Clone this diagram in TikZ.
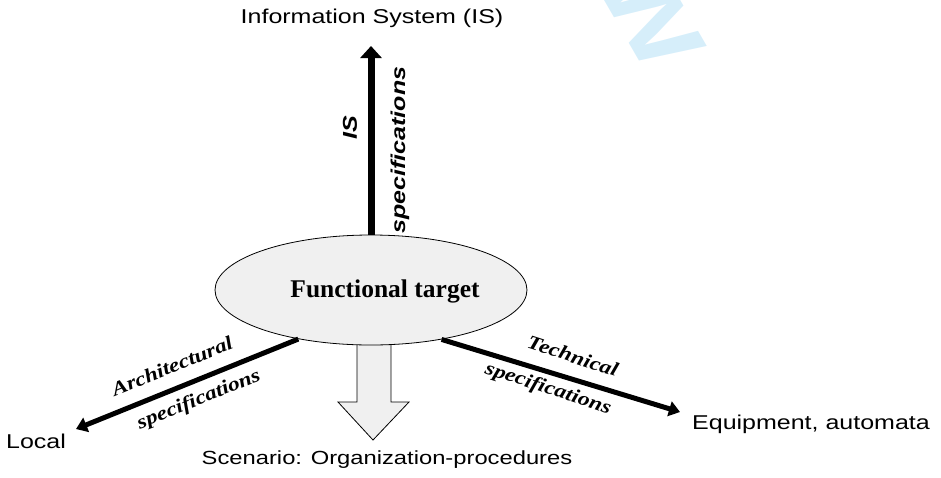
\documentclass[tikz,border=0pt]{standalone}
\usepackage{fontspec}
\setmainfont{Liberation Serif}
\newfontfamily\axisfont[FakeStretch=1.25]{Liberation Sans}
\newfontfamily\specfont[FakeStretch=1.2]{Liberation Serif}
\usetikzlibrary{shapes.geometric,arrows.meta}

\definecolor{targetgray}{RGB}{240,240,240}
\definecolor{markblue}{RGB}{214,238,250}

\tikzset{
  axislabel/.style={font=\axisfont\fontsize{20}{24}\selectfont},
  islabel/.style={font=\axisfont\bfseries\itshape\fontsize{20}{24}\selectfont,rotate=90},
  speclabel/.style={font=\specfont\bfseries\itshape\fontsize{19.5}{22}\selectfont},
  specarrow/.style={line width=5pt,-{Triangle[width=15pt,length=11pt]}},
}

\begin{document}
\begin{tikzpicture}[x=1pt,y=-1pt]
  \useasboundingbox (0,0) rectangle (941,477);

  \node (mark) at (650,14) [text=markblue,font=\axisfont\bfseries\fontsize{96}{96}\selectfont,rotate=-60] {W};

  % scenario arrow, under the ellipse
  \draw [thick,fill=targetgray] (357,320) -- (357,402) -- (338,402) -- (373,440)
        -- (409,402) -- (391,402) -- (391,320);

  \node (target) at (371,290) [ellipse,draw,thick,fill=targetgray,minimum width=312pt,minimum height=110pt,inner sep=0pt] {};
    \node (title) at (385,291) {\bfseries\fontsize{25.5}{29}\selectfont Functional target};

  \node (is) at (372,18) [axislabel] {Information System (IS)};
  \node (local) at (36,441) [axislabel] {Local};
  \node (equip) at (811,424) [axislabel] {Equipment, automata};
  \node (scen) at (387,460) [axislabel,font=\axisfont\fontsize{19}{23}\selectfont] {Scenario: Organization-procedures};

  \coordinate (istip) at (371,46);
  \coordinate (localtip) at (76,429);
  \coordinate (equiptip) at (680,412);

  \draw [line width=7pt,-{Triangle[width=21pt,length=12pt]}] (target.north) -- (istip);
  \draw [specarrow] (target.214) -- (localtip);
  \draw [specarrow] (target.-35) -- (equiptip);

  \node (isname) at (350,128) [islabel] {IS};
  \node (isspec) at (400,150) [islabel] {specifications};

  \node (archname) at (172,366) [speclabel,rotate=22] {Architectural};
  \node (archspec) at (199,400) [speclabel,rotate=22] {specifications};
  \node (techname) at (573,356) [speclabel,rotate=-18] {Technical};
  \node (techspec) at (548,389) [speclabel,rotate=-18] {specifications};
\end{tikzpicture}
\end{document}
